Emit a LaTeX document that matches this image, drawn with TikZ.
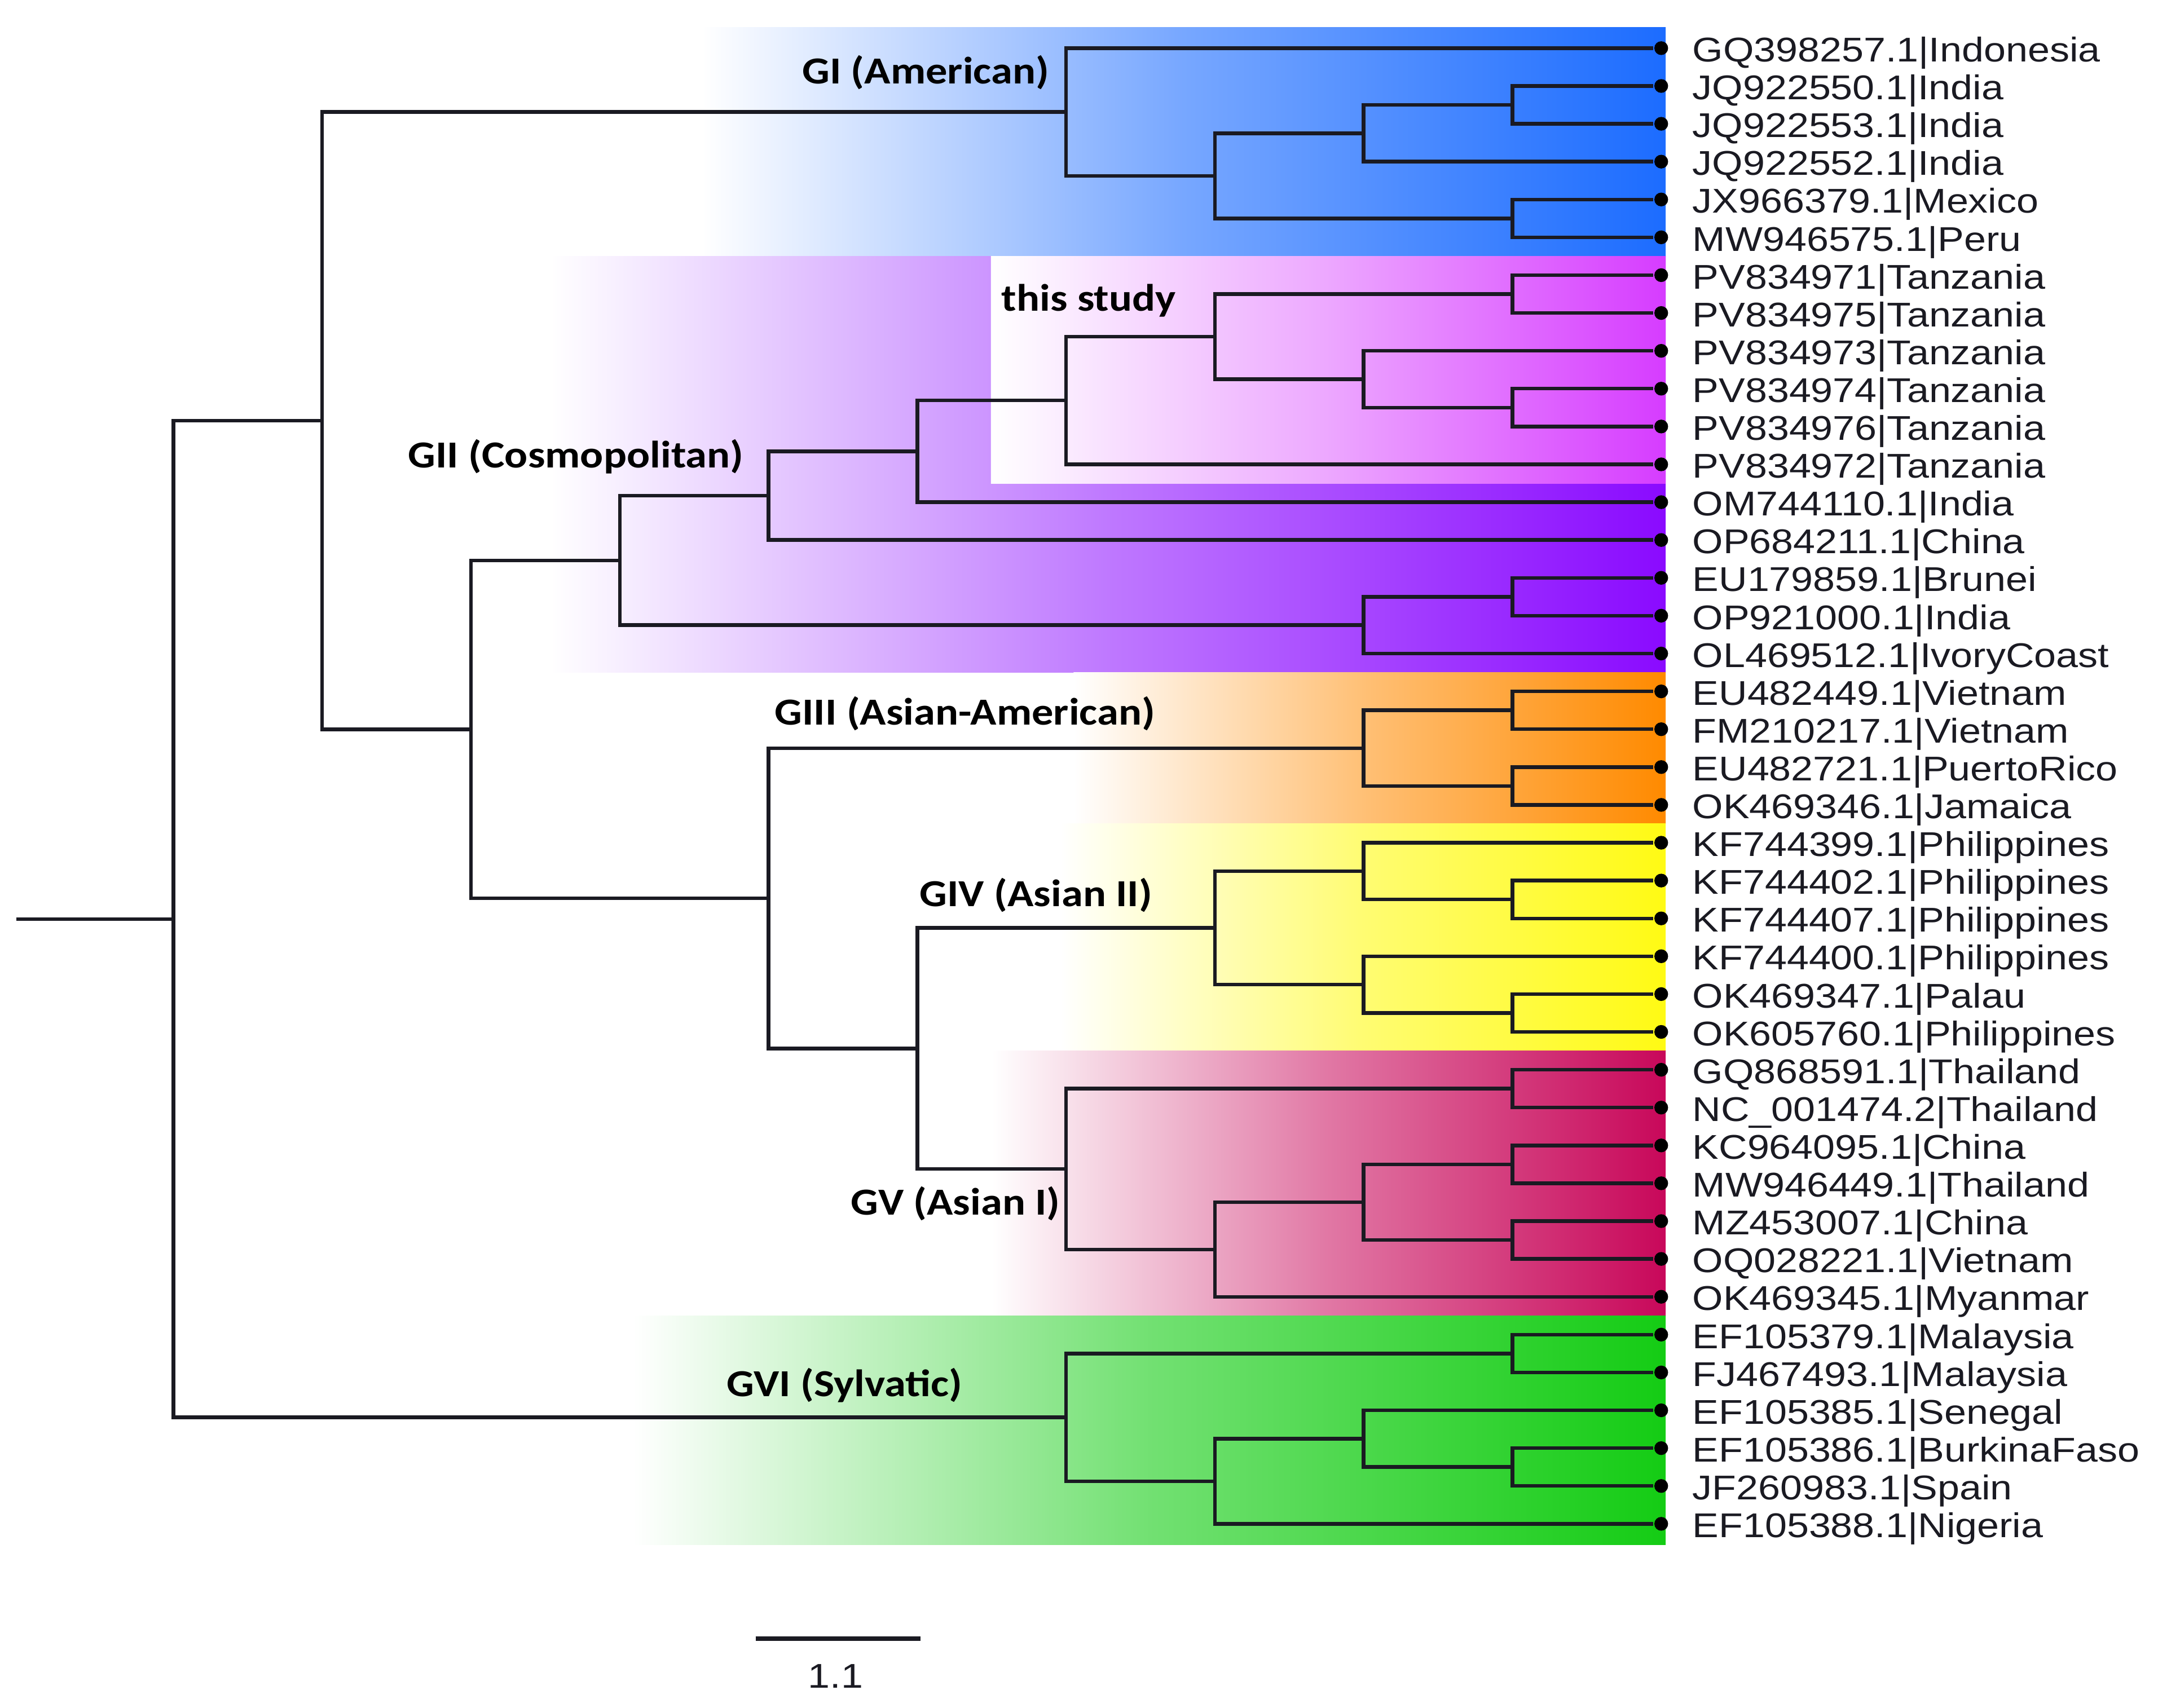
\documentclass[tikz,border=0pt]{standalone}
\usepackage{fontspec}
\usepackage{tikz}
\usetikzlibrary{calc, positioning}
\newfontfamily\leaffont[FakeStretch=1.15]{Liberation Sans}
\newfontfamily\cladefont[FakeStretch=1.13]{Carlito}
\definecolor{cblue}{HTML}{1C6CFF}
\definecolor{cpurple}{HTML}{8A0AFF}
\definecolor{cmagenta}{HTML}{D63CFF}
\definecolor{corange}{HTML}{FF8A00}
\definecolor{cyellow}{HTML}{FFFA14}
\definecolor{ccrimson}{HTML}{C8085A}
\definecolor{cgreen}{HTML}{14CC14}
\definecolor{cink}{HTML}{1A1A22}

\begin{document}
\begin{tikzpicture}[
  x=1.081cm, y=-0.275cm,
  branch/.style={draw=cink, line width=0.75pt},
  leafdot/.style={circle, fill=black, inner sep=0pt, minimum size=0.1cm},
  leaflabel/.style={font=\leaffont\fontsize{7.1}{8}\selectfont,
    text=cink, inner sep=0pt, anchor=base west},
  cladelabel/.style={font=\cladefont\bfseries\fontsize{7.9}{9}\selectfont,
    inner sep=0pt, anchor=base east},
  scalebar/.style={draw=cink, line width=0.85pt}
]
\useasboundingbox (-1.1656,-1.2727) rectangle (13.339,43.855);

% ============================================================
% Clade bands: white fading into the clade colour
% ============================================================
\shade[left color=white, right color=cblue, middle color=cblue!60]
  (3.552,-0.55) rectangle (10.03,5.5);
\shade[left color=white, right color=cpurple, middle color=cpurple!55]
  (2.535,5.5) rectangle (10.03,16.5);
\shade[left color=white, right color=cmagenta, middle color=cmagenta!45]
  (5.495,5.5) rectangle (10.03,11.5);
\shade[left color=white, right color=corange, middle color=corange!55]
  (6.05,16.5) rectangle (10.03,20.5);
\shade[left color=white, right color=cyellow, middle color=cyellow!60]
  (5.96,20.5) rectangle (10.03,26.5);
\shade[left color=white, right color=ccrimson, middle color=ccrimson!55]
  (5.5,26.5) rectangle (10.03,33.5);
\shade[left color=white, right color=cgreen, middle color=cgreen!60]
  (3.09,33.5) rectangle (10.03,39.55);

% ============================================================
% Tips: one dot and one label per sequence
% ============================================================
\foreach \lab [count=\i] in {
  GQ398257.1|Indonesia, JQ922550.1|India, JQ922553.1|India,
  JQ922552.1|India, JX966379.1|Mexico, MW946575.1|Peru,
  PV834971|Tanzania, PV834975|Tanzania, PV834973|Tanzania,
  PV834974|Tanzania, PV834976|Tanzania, PV834972|Tanzania,
  OM744110.1|India, OP684211.1|China, EU179859.1|Brunei,
  OP921000.1|India, OL469512.1|IvoryCoast, EU482449.1|Vietnam,
  FM210217.1|Vietnam, EU482721.1|PuertoRico, OK469346.1|Jamaica,
  KF744399.1|Philippines, KF744402.1|Philippines, KF744407.1|Philippines,
  KF744400.1|Philippines, OK469347.1|Palau, OK605760.1|Philippines,
  GQ868591.1|Thailand, NC\_001474.2|Thailand, KC964095.1|China,
  MW946449.1|Thailand, MZ453007.1|China, OQ028221.1|Vietnam,
  OK469345.1|Myanmar, EF105379.1|Malaysia, FJ467493.1|Malaysia,
  EF105385.1|Senegal, EF105386.1|BurkinaFaso, JF260983.1|Spain,
  EF105388.1|Nigeria} {
  \node[leafdot] (l\i) at (10,\i-1) {};
  \node[leaflabel] (t\i) at ($(l\i)+(0.204,0.36)$) {\lab};
}

% ============================================================
% Internal nodes (x = depth level, y = mean of the children)
% ============================================================
\foreach \n/\xp/\yp in {
  root/0/23.0166, nA/1/9.8457, nB/2/18.0039, nC/4/22.46875, nD/5/26.4375,
  gI/6/1.6875, g2to6/7/3.375, g234/8/2.25, g23/9/1.5, g56/9/4.5,
  gII/3/13.5391, s14/4/11.8281, s13/5/10.6563, study/6/9.3125,
  t7to11/7/7.625, t78/9/6.5, t9/8/8.75, t1011/9/9.5, b17/8/15.25, b1516/9/14.5,
  gIII/8/18.5, c1819/9/17.5, c2021/9/19.5,
  gIV/7/23.25, d22/8/21.75, d2324/9/22.5, d25/8/24.75, d2627/9/25.5,
  gV/6/29.625, e2829/9/27.5, e34/7/31.75, e4/8/30.5, e3031/9/29.5, e3233/9/31.5,
  gVI/6/36.1875, f3536/9/34.5, f40/7/37.875, f37/8/36.75, f3839/9/37.5} {
  \coordinate (\n) at (\xp,\yp);
}
\coordinate (stem) at (-1.0546,23.0166);

% ============================================================
% Branches (elbow from parent to child)
% ============================================================
\draw[branch] (stem) -- (root);
\foreach \p/\c in {
  root/nA, root/gVI, nA/gI, nA/nB,
  gI/l1, gI/g2to6, g2to6/g234, g2to6/g56, g234/g23, g234/l4,
  g23/l2, g23/l3, g56/l5, g56/l6,
  nB/gII, nB/nC, gII/s14, gII/b17, s14/s13, s14/l14, s13/study, s13/l13,
  study/t7to11, study/l12, t7to11/t78, t7to11/t9, t78/l7, t78/l8,
  t9/l9, t9/t1011, t1011/l10, t1011/l11, b17/b1516, b17/l17,
  b1516/l15, b1516/l16,
  nC/gIII, nC/nD, gIII/c1819, gIII/c2021, c1819/l18, c1819/l19,
  c2021/l20, c2021/l21,
  nD/gIV, nD/gV, gIV/d22, gIV/d25, d22/l22, d22/d2324, d2324/l23, d2324/l24,
  d25/l25, d25/d2627, d2627/l26, d2627/l27,
  gV/e2829, gV/e34, e2829/l28, e2829/l29, e34/e4, e34/l34,
  e4/e3031, e4/e3233, e3031/l30, e3031/l31, e3233/l32, e3233/l33,
  gVI/f3536, gVI/f40, f3536/l35, f3536/l36, f40/f37, f40/l40,
  f37/l37, f37/f3839, f3839/l38, f3839/l39} {
  \draw[branch] (\p) |- (\c);
}

% ============================================================
% Clade labels
% ============================================================
\node[cladelabel] (labGI) at (5.893,0.945) {GI (American)};
\node[cladelabel, anchor=base west] (labStudy) at (5.560,6.945) {this study};
\node[cladelabel] (labGII) at (3.839,11.09) {GII (Cosmopolitan)};
\node[cladelabel] (labGIII) at (6.605,17.89) {GIII (Asian-American)};
\node[cladelabel] (labGIV) at (6.586,22.69) {GIV (Asian II)};
\node[cladelabel] (labGV) at (5.967,30.84) {GV (Asian I)};
\node[cladelabel] (labGVI) at (5.310,35.64) {GVI (Sylvatic)};

% ============================================================
% Scale bar
% ============================================================
\coordinate (sbL) at (3.913,42.036);
\coordinate (sbR) at (5.023,42.036);
\draw[scalebar] (sbL) -- (sbR);
\node[leaflabel, anchor=center] (sbtxt) at (4.45,43.02) {1.1};

\end{tikzpicture}
\end{document}
